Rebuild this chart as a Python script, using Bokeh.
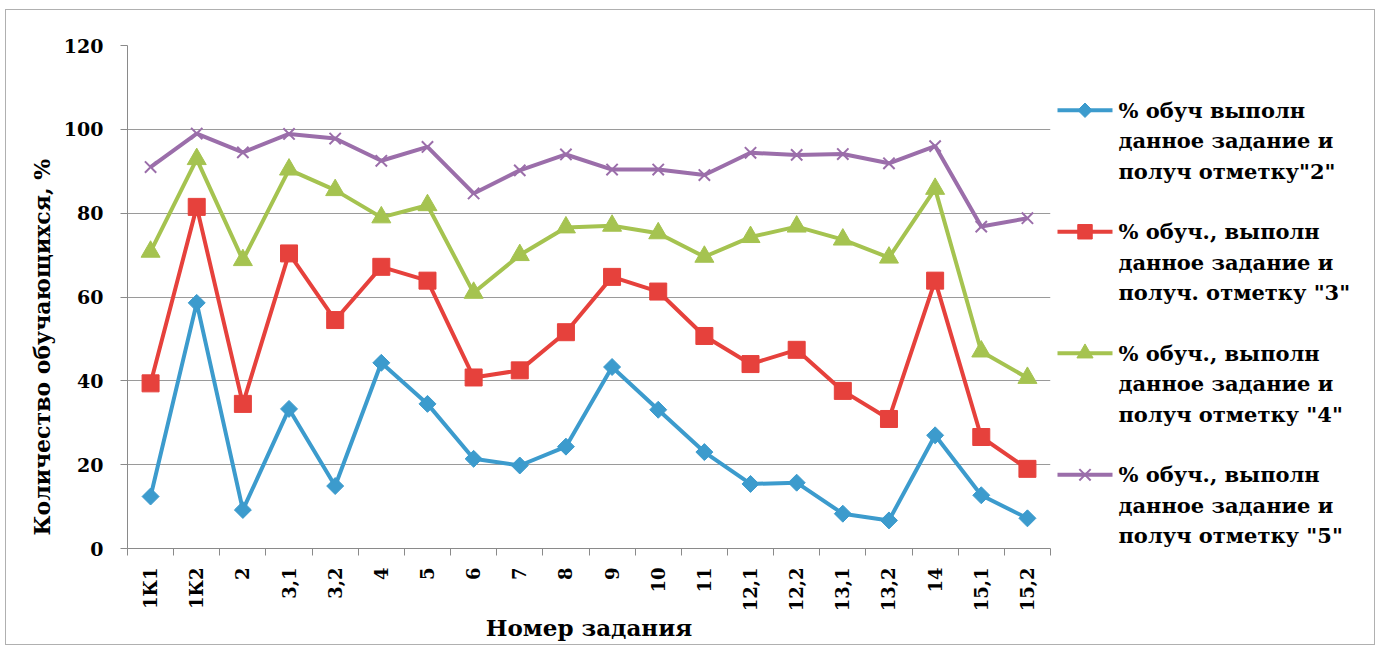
import numpy as np
from bokeh.plotting import figure
from bokeh.models import Range1d, FixedTicker, ColumnDataSource, Title
from bokeh.layouts import row
from bokeh.embed import file_html
from bokeh.resources import INLINE
from bokeh.core.properties import value

categories = ["1К1", "1К2", "2", "3,1", "3,2", "4", "5", "6", "7", "8",
              "9", "10", "11", "12,1", "12,2", "13,1", "13,2", "14", "15,1", "15,2"]
grade2 = [12.4, 58.6, 9.2, 33.3, 14.9, 44.3, 34.5, 21.4, 19.8, 24.3,
          43.3, 33.1, 23.0, 15.4, 15.7, 8.3, 6.7, 27.0, 12.7, 7.2]
grade3 = [39.4, 81.5, 34.5, 70.4, 54.5, 67.2, 63.9, 40.8, 42.5, 51.6,
          64.8, 61.3, 50.7, 44.0, 47.4, 37.6, 30.9, 63.9, 26.6, 19.0]
grade4 = [70.8, 92.9, 68.8, 90.4, 85.5, 79.0, 81.9, 61.0, 70.0, 76.6,
          77.0, 75.2, 69.6, 74.3, 76.8, 73.7, 69.4, 85.8, 47.0, 40.7]
grade5 = [91.0, 99.0, 94.5, 98.9, 97.8, 92.5, 95.8, 84.7, 90.2, 94.0,
          90.4, 90.4, 89.1, 94.4, 93.9, 94.1, 91.9, 96.0, 76.8, 78.8]
series_labels = [
    '% обуч выполн\nданное задание и\nполуч отметку"2"',
    '% обуч., выполн\nданное задание и\nполуч. отметку "3"',
    '% обуч., выполн\nданное задание и\nполуч отметку "4"',
    '% обуч., выполн\nданное задание и\nполуч отметку "5"',
]
y_ticks = [0, 20, 40, 60, 80, 100, 120]
x_title = "Номер задания"
y_title = "Количество обучающихся, %"

colors = ["#3C9BCD", "#E6413C", "#A5C350", "#9B6EAA"]
markers = [("square", np.pi / 4, 12), ("square", 0, 17), ("triangle", 0, 19), ("x", 0, 16)]
series = [grade2, grade3, grade4, grade5]

SERIF = "DejaVu Serif"
H = 634
W_MAIN = 1047
W_LEG = 321
B_TOP, B_BOT = 35, 94

n = len(categories)
xs = np.arange(n) + 0.5

p = figure(width=W_MAIN, height=H, x_range=Range1d(0, n), y_range=Range1d(0, 120),
           toolbar_location=None, output_backend="svg",
           min_border_left=121, min_border_right=3, min_border_top=B_TOP, min_border_bottom=B_BOT)
p.outline_line_color = None
p.xgrid.visible = False
p.ygrid.grid_line_color = "#9a9a9a"
p.ygrid.grid_line_width = 1
p.yaxis.ticker = FixedTicker(ticks=y_ticks)
p.xaxis.ticker = FixedTicker(ticks=list(xs), minor_ticks=list(range(n + 1)))
p.xaxis.major_label_overrides = {float(x): c for x, c in zip(xs, categories)}
p.xaxis.major_label_orientation = np.pi / 2
p.xaxis.major_tick_out = 0
p.xaxis.major_tick_in = 0
p.xaxis.minor_tick_out = 7
p.xaxis.minor_tick_in = 0
p.xaxis.major_label_standoff = 12
p.yaxis.major_tick_out = 7
p.yaxis.major_tick_in = 0
p.yaxis.minor_tick_line_color = None
p.yaxis.major_label_standoff = 17
for ax in (p.xaxis[0], p.yaxis[0]):
    ax.axis_line_color = "#8a8a8a"
    ax.major_tick_line_color = "#8a8a8a"
    ax.minor_tick_line_color = "#8a8a8a"
    ax.major_label_text_font = SERIF
    ax.major_label_text_font_style = "bold"
    ax.major_label_text_color = "black"
    ax.axis_label_text_font = SERIF
    ax.axis_label_text_font_style = "bold"
    ax.axis_label_text_color = "black"
p.xaxis.major_label_text_font_size = "18px"
p.yaxis.major_label_text_font_size = "19px"
p.xaxis.axis_label_text_font_size = "23px"
p.xaxis.axis_label = x_title
p.xaxis.axis_label_standoff = 0

# y-axis title in the left panel, starting near the bottom like the original
p.add_layout(Title(text=y_title, align="left", offset=13, standoff=12,
                   text_font=SERIF, text_font_size="22px", text_font_style="bold",
                   text_color="black"), "left")

for vals, col, (mk, ang, sz) in zip(series, colors, markers):
    src = ColumnDataSource(dict(x=xs, y=vals))
    p.line("x", "y", source=src, line_color=col, line_width=4)
    if mk == "x":
        p.scatter("x", "y", source=src, marker=mk, size=sz, line_color=col, line_width=2)
    else:
        p.scatter("x", "y", source=src, marker=mk, angle=ang, size=sz,
                  fill_color=col, line_color=col)

# legend panel: its frame lines up with the chart frame, y expressed in page pixels
frame_top_px = 10 + B_TOP
frame_bot_px = 10 + H - B_BOT
leg = figure(width=W_LEG, height=H, x_range=Range1d(0, W_LEG),
             y_range=Range1d(frame_bot_px, frame_top_px),
             toolbar_location=None, output_backend="svg", x_axis_type=None, y_axis_type=None,
             min_border_left=0, min_border_right=0, min_border_top=B_TOP, min_border_bottom=B_BOT)
leg.outline_line_color = None
leg.grid.visible = False
top, pitch, lpitch = 110, 122, 30.5
tx, ty, tt = [], [], []
for i, (lab, col, (mk, ang, sz)) in enumerate(zip(series_labels, colors, markers)):
    yc = top + i * pitch
    leg.line([4, 59], [yc, yc], line_color=col, line_width=4)
    if mk == "x":
        leg.scatter([31.5], [yc], marker=mk, size=sz, line_color=col, line_width=2)
    else:
        leg.scatter([31.5], [yc], marker=mk, angle=-ang, size=sz * 0.85,
                    fill_color=col, line_color=col)
    for j, line in enumerate(lab.split("\n")):
        tx.append(65)
        ty.append(yc + j * lpitch)
        tt.append(line)
leg.text(x=tx, y=ty, text=tt, text_font=value(SERIF), text_font_style="bold",
         text_font_size="21px", text_baseline="middle", text_align="left", text_color="black")

layout = row(p, leg, styles={"border": "1px solid #b0b0b0", "margin": "9px 0 0 5px"})
open("out.html", "w").write(file_html(layout, INLINE))
